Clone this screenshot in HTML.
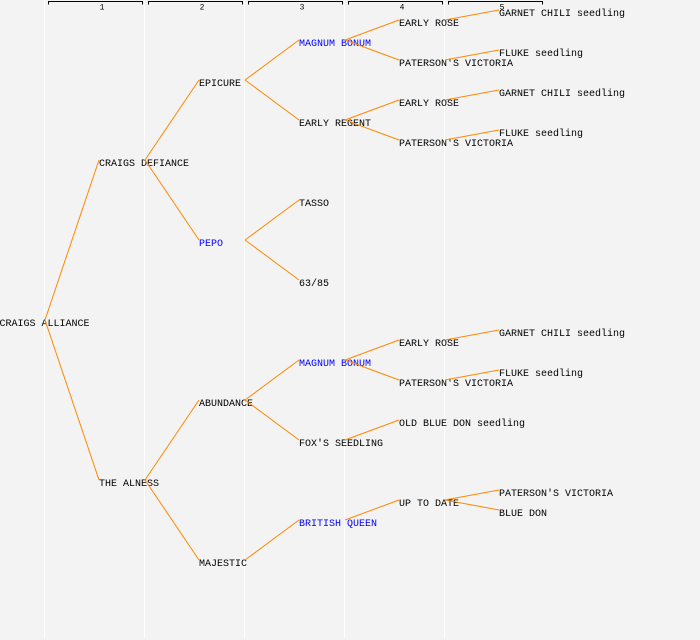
<!DOCTYPE html>
<html>
<head>
<meta charset="utf-8">
<style>
html,body{margin:0;padding:0;background:#f3f3f3;}
svg{display:block;}
text{font-family:"Liberation Mono","DejaVu Sans Mono",monospace;font-size:10px;fill:#000;}
.b{fill:#0000ff;}
.h{font-size:8px;}
line.e{stroke:#ff8800;stroke-width:1;}
</style>
</head>
<body>
<svg width="700" height="640" viewBox="0 0 700 640" xmlns="http://www.w3.org/2000/svg">
<rect x="0" y="0" width="700" height="640" fill="#f3f3f3"/>
<!-- column separators -->
<rect x="44" y="0" width="1" height="638" fill="#ffffff"/>
<rect x="144" y="0" width="1" height="638" fill="#ffffff"/>
<rect x="244" y="0" width="1" height="638" fill="#ffffff"/>
<rect x="344" y="0" width="1" height="638" fill="#ffffff"/>
<rect x="444" y="0" width="1" height="638" fill="#ffffff"/>
<!-- header brackets -->
<g fill="none" stroke="#000" stroke-width="1">
<path d="M48.5,4.5 V1.5 H142.5 V4.5"/>
<path d="M148.5,4.5 V1.5 H242.5 V4.5"/>
<path d="M248.5,4.5 V1.5 H342.5 V4.5"/>
<path d="M348.5,4.5 V1.5 H442.5 V4.5"/>
<path d="M448.5,4.5 V1.5 H542.5 V4.5"/>
</g>
<text class="h" x="102" y="9.5" text-anchor="middle">1</text>
<text class="h" x="202" y="9.5" text-anchor="middle">2</text>
<text class="h" x="302" y="9.5" text-anchor="middle">3</text>
<text class="h" x="402" y="9.5" text-anchor="middle">4</text>
<text class="h" x="502" y="9.5" text-anchor="middle">5</text>

<!-- labels (baseline = center + 4) -->
<text x="-0.5" y="326">CRAIGS ALLIANCE</text>
<text x="99" y="166">CRAIGS DEFIANCE</text>
<text x="199" y="86">EPICURE</text>
<text class="b" x="299" y="46">MAGNUM BONUM</text>
<text x="399" y="26">EARLY ROSE</text>
<text x="499" y="16">GARNET CHILI seedling</text>
<text x="399" y="66">PATERSON'S VICTORIA</text>
<text x="499" y="56">FLUKE seedling</text>
<text x="299" y="126">EARLY REGENT</text>
<text x="399" y="106">EARLY ROSE</text>
<text x="499" y="96">GARNET CHILI seedling</text>
<text x="399" y="146">PATERSON'S VICTORIA</text>
<text x="499" y="136">FLUKE seedling</text>
<text class="b" x="199" y="246">PEPO</text>
<text x="299" y="206">TASSO</text>
<text x="299" y="286">63/85</text>
<text x="99" y="486">THE ALNESS</text>
<text x="199" y="406">ABUNDANCE</text>
<text class="b" x="299" y="366">MAGNUM BONUM</text>
<text x="399" y="346">EARLY ROSE</text>
<text x="499" y="336">GARNET CHILI seedling</text>
<text x="399" y="386">PATERSON'S VICTORIA</text>
<text x="499" y="376">FLUKE seedling</text>
<text x="299" y="446">FOX'S SEEDLING</text>
<text x="399" y="426">OLD BLUE DON seedling</text>
<text x="199" y="566">MAJESTIC</text>
<text class="b" x="299" y="526">BRITISH QUEEN</text>
<text x="399" y="506">UP TO DATE</text>
<text x="499" y="496">PATERSON'S VICTORIA</text>
<text x="499" y="516">BLUE DON</text>

<!-- edges (drawn over text) -->
<g>
<line class="e" x1="45" y1="320" x2="99" y2="160"/>
<line class="e" x1="45" y1="320" x2="99" y2="480"/>

<line class="e" x1="145" y1="160" x2="199" y2="80"/>
<line class="e" x1="145" y1="160" x2="199" y2="240"/>
<line class="e" x1="145" y1="480" x2="199" y2="400"/>
<line class="e" x1="145" y1="480" x2="199" y2="560"/>

<line class="e" x1="245" y1="80" x2="299" y2="40"/>
<line class="e" x1="245" y1="80" x2="299" y2="120"/>
<line class="e" x1="245" y1="240" x2="299" y2="200"/>
<line class="e" x1="245" y1="240" x2="299" y2="280"/>
<line class="e" x1="245" y1="400" x2="299" y2="360"/>
<line class="e" x1="245" y1="400" x2="299" y2="440"/>
<line class="e" x1="245" y1="560" x2="299" y2="520"/>

<line class="e" x1="345" y1="40" x2="399" y2="20"/>
<line class="e" x1="345" y1="40" x2="399" y2="60"/>
<line class="e" x1="345" y1="120" x2="399" y2="100"/>
<line class="e" x1="345" y1="120" x2="399" y2="140"/>
<line class="e" x1="345" y1="360" x2="399" y2="340"/>
<line class="e" x1="345" y1="360" x2="399" y2="380"/>
<line class="e" x1="345" y1="440" x2="399" y2="420"/>
<line class="e" x1="345" y1="520" x2="399" y2="500"/>

<line class="e" x1="445" y1="20" x2="499" y2="10"/>
<line class="e" x1="445" y1="60" x2="499" y2="50"/>
<line class="e" x1="445" y1="100" x2="499" y2="90"/>
<line class="e" x1="445" y1="140" x2="499" y2="130"/>
<line class="e" x1="445" y1="340" x2="499" y2="330"/>
<line class="e" x1="445" y1="380" x2="499" y2="370"/>
<line class="e" x1="445" y1="500" x2="499" y2="490"/>
<line class="e" x1="445" y1="500" x2="499" y2="510"/>
</g>
</svg>
</body>
</html>
